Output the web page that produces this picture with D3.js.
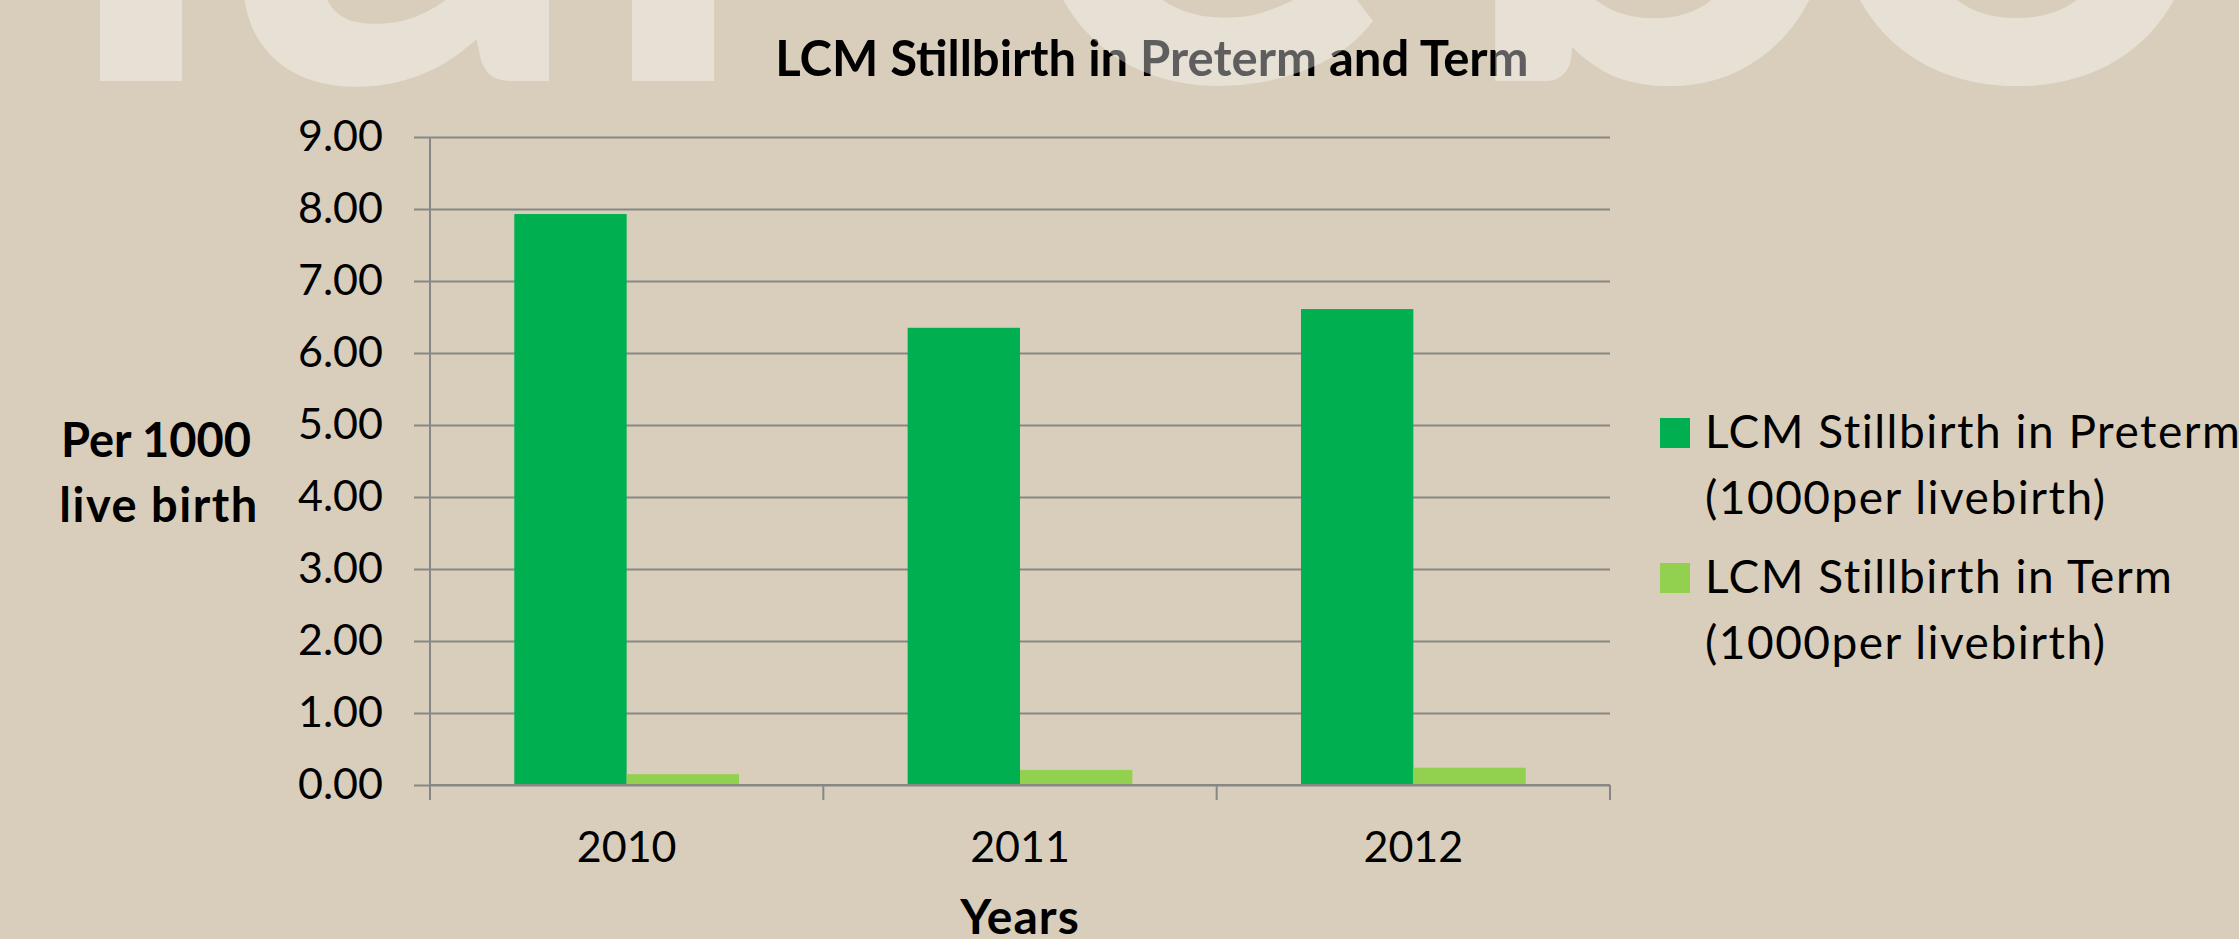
<!DOCTYPE html>
<html>
<head>
<meta charset="utf-8">
<script src="https://cdn.jsdelivr.net/npm/d3@7"></script>
<style>
  html, body { margin: 0; padding: 0; background: #d9cebb; overflow: hidden; }
  svg { display: block; font-family: Lato, "Open Sans", sans-serif; }
</style>
</head>
<body>
<svg id="chart" width="2239" height="939"></svg>
<script>
// data
var years = ['2010', '2011', '2012'];
var seriesNames = ['LCM Stillbirth in Preterm', 'LCM Stillbirth in Term'];
var preterm = [7.93, 6.35, 6.61];
var term = [0.15, 0.21, 0.24];
var yTicks = [0, 1, 2, 3, 4, 5, 6, 7, 8, 9];
var legendSub = '(1000per livebirth)';

var W = 2239, H = 939;
var pLeft = 430, pRight = 1610, pTop = 137, pBottom = 785;
var colors = ['#00b050', '#92d050'];

var svg = d3.select('#chart');
svg.append('rect').attr('width', W).attr('height', H).attr('fill', '#d9cebb');

var x0 = d3.scaleBand().domain(years).range([pLeft, pRight]).padding(0);
var x1 = d3.scaleBand().domain(seriesNames).range([0, x0.bandwidth()])
  .paddingInner(0).paddingOuter(0.75);
var y = d3.scaleLinear().domain([0, 9]).range([pBottom, pTop]);

// gridlines
var grid = svg.append('g').attr('transform', 'translate(414,0)')
  .call(d3.axisLeft(y).tickValues(yTicks).tickSize(-(pRight - 414)).tickFormat(''));
grid.select('.domain').remove();
grid.selectAll('line').attr('stroke', '#878787').attr('stroke-width', 2);

// y labels
var ya = svg.append('g').attr('transform', 'translate(' + pLeft + ',0)')
  .call(d3.axisLeft(y).tickValues(yTicks).tickSize(0).tickPadding(47).tickFormat(d3.format('.2f')));
ya.select('.domain').remove();
ya.selectAll('text').attr('font-size', 43).attr('font-family', 'Lato').attr('fill', '#000');

// bars
var rows = years.map(function (yr, i) { return { year: yr, vals: [preterm[i], term[i]] }; });
var g = svg.selectAll('.cat').data(rows).enter().append('g')
  .attr('transform', function (d) { return 'translate(' + x0(d.year) + ',0)'; });
g.selectAll('rect').data(function (d) {
  return d.vals.map(function (v, k) { return { name: seriesNames[k], v: v, k: k }; });
}).enter().append('rect')
  .attr('x', function (d) { return x1(d.name); })
  .attr('width', x1.bandwidth())
  .attr('y', function (d) { return y(d.v); })
  .attr('height', function (d) { return pBottom - y(d.v); })
  .attr('fill', function (d) { return colors[d.k]; });

// axis lines
svg.append('line').attr('x1', pLeft).attr('x2', pLeft).attr('y1', pTop).attr('y2', pBottom)
  .attr('stroke', '#878787').attr('stroke-width', 2);
svg.append('line').attr('x1', pLeft).attr('x2', pRight).attr('y1', pBottom).attr('y2', pBottom)
  .attr('stroke', '#878787').attr('stroke-width', 2);
var bounds = years.map(function (d) { return x0(d); }).concat([pRight]);
svg.selectAll('.xt').data(bounds).enter().append('line')
  .attr('x1', function (d) { return d; }).attr('x2', function (d) { return d; })
  .attr('y1', pBottom).attr('y2', pBottom + 15)
  .attr('stroke', '#878787').attr('stroke-width', 2);

// x labels
var xa = svg.append('g').attr('transform', 'translate(0,' + pBottom + ')')
  .call(d3.axisBottom(x0).tickSize(0).tickPadding(46));
xa.select('.domain').remove();
xa.selectAll('text').attr('font-size', 43).attr('font-family', 'Lato').attr('fill', '#000');

// axis titles
svg.append('text').attr('x', 1020).attr('y', 934).attr('text-anchor', 'middle')
  .attr('font-size', 48).attr('font-weight', 'bold').attr('letter-spacing', 1).text('Years');
svg.append('text').attr('x', 156).attr('y', 457).attr('text-anchor', 'middle')
  .attr('font-size', 47).attr('font-weight', 'bold').text('Per 1000');
svg.append('text').attr('x', 159).attr('y', 522).attr('text-anchor', 'middle')
  .attr('font-size', 47).attr('font-weight', 'bold').attr('letter-spacing', 1.5).text('live birth');

// legend
var lg = svg.selectAll('.lg').data(seriesNames).enter().append('g')
  .attr('transform', function (d, i) { return 'translate(1660,' + (418 + i * 145) + ')'; });
lg.append('rect').attr('width', 30).attr('height', 30)
  .attr('fill', function (d, i) { return colors[i]; });
lg.append('text').attr('x', 45).attr('y', 30).attr('font-size', 46).attr('letter-spacing', 1.5)
  .text(function (d) { return d; });
lg.append('text').attr('x', 45).attr('y', 96).attr('font-size', 46).attr('letter-spacing', 1.5)
  .text(legendSub);

// title
svg.append('text').attr('x', 1152).attr('y', 76).attr('text-anchor', 'middle')
  .attr('font-size', 49).attr('font-weight', 'bold').text('LCM Stillbirth in Preterm and Term');

// big faded background letters at the top edge
var wm = [['l', 141], ['a', 408], ['l', 673], ['e', 1205], ['b', 1655], ['o', 2017]];
svg.append('g').attr('opacity', 0.37)
  .selectAll('text').data(wm).enter().append('text')
  .attr('x', function (d) { return d[1]; }).attr('y', 72)
  .attr('text-anchor', 'middle').attr('font-size', 720)
  .attr('fill', '#fff').attr('stroke', '#fff').attr('stroke-width', 18)
  .text(function (d) { return d[0]; });
</script>
</body>
</html>
